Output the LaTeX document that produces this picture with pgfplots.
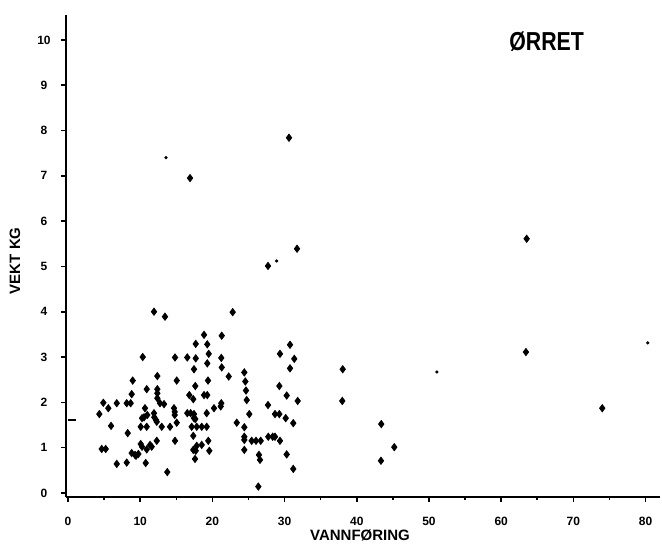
\documentclass[border=0pt]{standalone}
\usepackage{fontspec}
\setmainfont{Liberation Sans}
\usepackage{pgfplots}
\usepackage{pgfplotstable}
\pgfplotsset{compat=1.18}
\pgfplotstableread{
x y
16.90 6.95
30.61 7.84
27.70 5.01
31.72 5.39
22.81 3.99
11.91 4.00
13.43 3.89
63.53 5.61
63.43 3.11
74.00 1.87
38.05 2.73
37.99 2.03
43.39 1.52
45.19 1.01
43.35 0.71
18.84 3.49
21.29 3.47
17.69 3.29
19.29 3.28
19.49 3.07
10.35 3.00
14.82 2.99
16.52 2.99
17.69 2.97
21.23 2.98
19.29 2.86
21.29 2.77
17.45 2.73
12.37 2.58
22.26 2.57
24.42 2.66
8.96 2.48
15.06 2.48
19.39 2.48
24.56 2.46
17.63 2.36
10.90 2.29
12.37 2.29
12.37 2.20
24.65 2.26
8.82 2.18
16.80 2.16
18.84 2.16
19.29 2.16
12.37 2.09
24.75 2.05
4.89 1.99
6.75 1.98
8.13 1.98
8.68 1.98
12.74 1.98
13.30 1.96
17.35 2.07
5.58 1.87
10.66 1.87
14.68 1.87
14.78 1.79
14.78 1.72
20.22 1.87
21.15 1.91
21.23 1.98
4.34 1.74
11.91 1.76
11.95 1.67
16.52 1.76
16.99 1.76
17.45 1.74
17.45 1.65
17.63 1.63
19.21 1.76
25.11 1.74
10.98 1.72
10.53 1.67
10.25 1.65
12.19 1.61
12.29 1.57
15.06 1.55
23.37 1.55
5.96 1.48
10.07 1.46
10.90 1.46
12.98 1.46
14.13 1.46
17.13 1.46
17.83 1.46
18.52 1.46
19.21 1.46
24.42 1.45
8.27 1.32
17.35 1.26
24.42 1.24
24.42 1.17
10.07 1.08
10.25 1.02
11.36 1.06
11.59 1.02
12.29 1.15
14.82 1.15
19.43 1.15
17.83 1.04
18.52 1.06
4.67 0.97
5.22 0.97
17.35 0.95
17.69 0.93
19.57 0.93
24.42 0.95
8.82 0.88
9.28 0.84
9.74 0.86
9.42 0.82
10.90 0.96
17.59 0.75
6.75 0.64
8.13 0.67
10.76 0.66
13.75 0.46
30.75 3.27
29.36 3.07
31.34 2.96
30.75 2.75
29.27 2.36
30.29 2.15
31.81 2.03
27.70 1.94
28.67 1.74
29.27 1.74
30.15 1.65
31.20 1.54
25.44 1.15
26.04 1.15
26.69 1.15
27.74 1.24
28.35 1.24
28.67 1.24
29.36 1.15
26.45 0.84
26.59 0.73
30.29 0.85
31.20 0.53
26.36 0.14
}\main
\pgfplotstableread{
x y
13.57 7.40
51.10 2.67
80.30 3.31
28.90 5.12
}\small
\begin{document}
\begin{tikzpicture}
\begin{axis}[
  scale only axis, width=297pt, height=241pt,
  xmin=-0.28, xmax=82, ymin=-0.09, ymax=10.55,
  axis x line*=bottom, axis y line*=left,
  axis line style={-, line width=1.2pt},
  xtick={0,10,...,80}, ytick={0,1,...,10},
  minor x tick num=1,
  tick align=outside,
  major tick length=2.5pt, minor tick length=1.5pt,
  every tick/.style={black, line width=0.8pt},
  /pgf/number format/assume math mode=true,
  ticklabel style={font=\fontsize{6}{6}\selectfont\bfseries},
  xticklabel style={anchor=center, yshift=-9.5pt},
  yticklabel style={anchor=center, xshift=-8.5pt},
  xlabel={VANNFØRING}, ylabel={VEKT KG},
  xlabel style={font=\fontsize{7.5}{7.5}\selectfont\bfseries, at={(axis description cs:0.495,-0.08)}, anchor=center},
  ylabel style={font=\fontsize{7.5}{7.5}\selectfont\bfseries, at={(axis description cs:-0.086,0.49)}, anchor=center},
  clip=false,
]
\addplot[only marks, mark=diamond*, mark size=1.8pt, black] table[x=x,y=y]{\main};
\addplot[only marks, mark=*, mark size=0.6pt, black] table[x=x,y=y]{\small};
\addplot[only marks, mark=-, mark size=2pt, black, line width=0.8pt] coordinates {(0.55,1.61)};
\node[font=\fontsize{13}{13}\selectfont\bfseries, xscale=0.82] at (axis cs:66.3,9.96) {ØRRET};
\coordinate (sw) at (rel axis cs:0,0);
\coordinate (ne) at (rel axis cs:1,1);
\end{axis}
\pgfresetboundingbox
\path ([shift={(-33pt,-23.5pt)}]sw) rectangle ([shift={(1pt,7.5pt)}]ne);
\end{tikzpicture}
\end{document}
